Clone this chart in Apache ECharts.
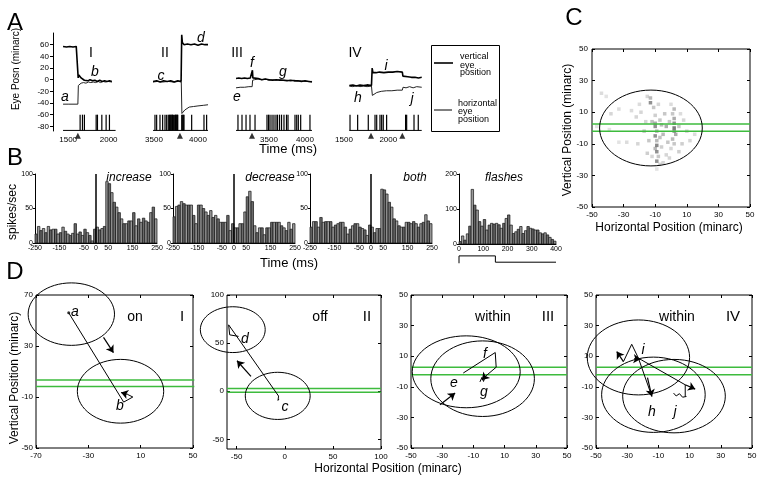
<!DOCTYPE html>
<html><head><meta charset="utf-8">
<script src="https://cdn.jsdelivr.net/npm/echarts@6/dist/echarts.min.js"></script>
<style>html,body{margin:0;padding:0;background:#fff}#c{width:763px;height:482px}</style>
</head><body><div id="c"></div><script>
// ================= DATA =================
// Panel A: eye position traces [time ms, minarc]
const A_yTicks = [60,40,20,0,-20,-40,-60,-80];
const A1_xTicks = [1500,2000], A2_xTicks = [3500,4000], A3_xTicks = [3500,4000], A4_xTicks = [1500,2000];
const A1_vert = [[1437,57],[1480,56],[1520,57],[1560,56],[1600,57],[1618,56],[1624,3],[1632,8],[1645,6],[1660,3],[1680,2],[1700,-1],[1720,1],[1745,-2],[1770,0],[1800,-2],[1830,-1],[1860,-3],[1890,-1],[1920,-3],[1950,-2],[1980,-3],[2010,-2],[2040,-3]];
const A1_horiz = [[1437,-42],[1500,-42],[1560,-42],[1620,-42],[1626,-10],[1635,-7],[1660,-6],[1690,-5],[1720,-6],[1750,-4],[1780,-5],[1810,-4],[1840,-5],[1870,-3],[1900,-5],[1930,-3],[1960,-4],[1990,-3],[2040,-4]];
const A2_vert = [[3489,-3],[3530,-2],[3570,-4],[3610,-2],[3650,-3],[3690,-2],[3730,-4],[3770,-2],[3808,-3],[3815,77],[3822,64],[3840,60],[3880,61],[3920,60],[3960,61],[4000,59],[4040,61],[4080,60],[4114,60]];
const A2_horiz = [[3489,-4],[3540,-3],[3600,-4],[3660,-3],[3720,-4],[3780,-3],[3810,-4],[3817,-58],[3830,-57],[3850,-52],[3870,-49],[3900,-47],[3950,-46],[4000,-45],[4060,-44],[4114,-43]];
const A3_vert = [[3042,2],[3080,3],[3120,2],[3160,3],[3200,2],[3240,3],[3266,2],[3270,16],[3276,3],[3300,1],[3350,2],[3400,0],[3450,1],[3500,0],[3550,-1],[3600,0],[3650,-1],[3700,-1],[3750,-2],[3800,-1],[3850,-2],[3900,-2],[3950,-3],[4000,-2],[4050,-3],[4097,-4]];
const A3_horiz = [[3042,-14],[3100,-13],[3160,-13],[3220,-12],[3266,-12],[3272,-1],[3300,0],[3350,1],[3400,0],[3450,1],[3500,-1],[3550,0],[3600,-1],[3650,0],[3700,-1],[3750,-1],[3800,-2],[3850,-1],[3900,-2],[3950,-2],[4000,-3],[4050,-3],[4097,-3]];
const A4_vert = [[1560,-10],[1600,-9],[1640,-11],[1680,-9],[1720,-10],[1760,-9],[1810,-10],[1818,20],[1826,12],[1860,12],[1900,13],[1950,12],[2000,13],[2050,13],[2100,14],[2158,13],[2165,6],[2180,4],[2220,5],[2260,4],[2300,4],[2340,3],[2377,4]];
const A4_horiz = [[1560,-11],[1600,-12],[1640,-10],[1680,-12],[1720,-11],[1760,-12],[1810,-11],[1820,-27],[1840,-25],[1870,-22],[1920,-20],[1980,-19],[2040,-19],[2100,-18],[2158,-18],[2166,-13],[2200,-14],[2240,-12],[2280,-14],[2320,-12],[2377,-13]];
// spike rasters (ms), raster extents, stimulus triggers
const A1_spikes = [1648,1677,1701,1846,1862,1916,1969,2010];
const A2_spikes = [3511,3530,3568,3598,3625,3644,3662,3674,3680,3690,3695,3705,3710,3720,3735,3745,3750,3758,3765,3770,3815,3826,3833,3841,3928,4068,4098];
const A3_spikes = [3069,3125,3181,3236,3306,3472,3493,3514,3542,3569,3597,3618,3646,3674,3708,3743,3764,3861,3885,3907,3940,4069];
const A4_spikes = [1568,1654,1774,1850,1869,1906,1925,1943,1981,2195,2207,2290,2338];
const A1_span = [1437,2086], A2_span = [3489,4114], A3_span = [3042,4097], A4_span = [1560,2377];
const A1_trig = [1620], A2_trig = [3795], A3_trig = [3264], A4_trig = [1805,2158];

// Panel B: PSTH (10 ms bins)
const B_xTicks = [-250,-150,-50,0,50,150,250];
const B_yTicks = [0,50,100];
const B_binStart = -250, B_binWidth = 10;
const incRate = [13,24,18,21,15,24,19,20,20,13,15,23,17,13,11,14,28,13,16,11,20,15,11,3,20, 23,19,21,24,89,86,73,59,52,44,35,28,28,32,32,44,25,35,30,36,32,30,44,52,35];
const decRate = [38,53,55,60,57,55,55,55,40,28,55,55,50,45,40,47,37,40,35,30,30,30,40,18,28, 22,22,28,28,45,67,75,60,25,15,22,22,12,22,22,30,30,30,30,25,22,18,30,20,28];
const bothRate = [23,31,31,23,37,30,31,31,31,23,26,28,30,30,23,13,20,25,28,28,23,21,19,11,26, 23,15,21,21,78,77,71,59,52,35,32,25,23,23,30,30,28,31,28,23,28,30,41,32,28];
const flash_xTicks = [0,100,200,300,400];
const flash_yTicks = [0,100,200];
const flashRate = [7,23,11,29,51,156,111,97,64,51,70,40,54,59,57,59,55,45,59,73,83,54,30,35,42,50,30,38,50,45,43,40,40,32,29,32,26,19,13,8];
const flashStim = [[0,-55],[0,-34],[150,-34],[150,-52],[400,-52]];

// Panel C: fixation density
const C_ticks = [-50,-30,-10,10,30,50];
const cloudX = [-13,-13,-15,-11,-10,-10,-10,-9,-10,-9,-9,-10,-9,-8,-9,-7, 2,1,2,2,2,2,3,1,2,0, -3,-5,-6,-4,-2,-6,-3, -19,-22,-25,-17,-14,-15,-12,-21,-28,-33,-38,-33,-44,-41,-39,-47, 7,12,10,8,5,-1,-5,-9,5,6,-16,-12,-7,-7,-1,-20,-8,0,15];
const cloudY = [16,19,20,13,8,3,1,-2,-5,-8,-11,-13,-15,-18,-21,-23, 12,9,6,3,0,-2,-4,-7,-10,-13, 1,-4,2,9,-9,-12,-17, 10,7,11,-2,-8,-16,-18,-10,-9,-9,9,12,22,20,-1,1, -10,-8,-2,5,-15,-19,-22,-26,1,9,4,4,5,-6,4,15,15,15,-4];
const cloudI = [0.8,0.5,0.3,0.4,0.35,0.6,0.8,0.5,0.8,0.5,0.85,0.5,0.8,0.4,0.8,0.3, 0.5,0.4,0.6,0.8,0.95,0.7,0.6,0.5,0.4,0.3, 0.6,0.5,0.5,0.4,0.4,0.35,0.3, 0.3,0.3,0.25,0.4,0.4,0.35,0.3,0.3,0.25,0.2,0.3,0.25,0.25,0.2,0.2,0.2, 0.35,0.3,0.3,0.3,0.35,0.3,0.3,0.2,0.4,0.25,0.3,0.45,0.4,0.45,0.4,0.25,0.3,0.25,0.25];
const C_ellipse = [[-12.7,0,32.5,24]];
const C_green = [2.5,-2];

// Panel D: trajectories and receptive fields
const D1_xTicks = [-70,-30,10,50], D1_yTicks = [-50,-10,30,70];
const D2_ticks = [-50,0,50,100];
const D34_ticks = [-50,-30,-10,10,30,50];
const D1_ellipses = [[-43,55,33,24.5],[-5.4,-5.5,33,25]];
const D1_path = [[-45,56],[-3,-14],[4,-10],[0,-8]];
const D1_arrows = [[-18.4,36.8,-10.8,24.8],[0,-8,-5,-6.5]];
const D1_start = [[-45,56]];
const D1_green = [3.4,-1.8];
const D2_ellipses = [[-54,64,33.7,23.8],[-7.3,-4.8,33.7,24.5]];
const D2_path = [[-48,57],[-57.2,58.6],[-58.3,69],[-6.4,-5],[-7,-9.5],[-6,-8]];
const D2_arrows = [[-35.1,15.5,-49.6,31.7]];
const D2_green = [2.8,-1];
const D3_ellipses = [[-14.6,-0.2,34.6,23.5],[-4.1,-4.7,33.2,24.7]];
const D3_path = [[-16.5,-1],[-15.3,-2.2],[4,12.4],[4.6,2.8],[-2.5,-3.3],[-3.5,-6.5],[-4.5,-3.8],[-5.8,-6.8]];
const D3_arrows = [[-31.4,-21.7,-21.7,-14.1],[-2.5,-3.3,-4.5,-5.5]];
const D3_green = [2.8,-2.2];
const D4_ellipses = [[-22.8,9.2,32.8,24.5],[-13.2,-15.2,33.2,24.6],[0,-16.1,32.9,24]];
const D4_tent = [[-32.4,6.5],[-27.1,17.8],[-22.8,8.7],[-14.2,-16.3]];
const D4_pathJ = [[-22.8,8.7],[7.2,-8.7],[7.2,-16.3]];
const D4_squiggle = [[-0.3,-14.1],[1.4,-16],[3.5,-14.5],[5.5,-16.8],[8,-16.3]];
const D4_arrows = [[-32.4,6.5,-36.7,13],[-17,-4,-14.2,-16.3],[7.2,-8.7,13.6,-11.5],[-25.5,8.4,-21.5,8]];
const D4_green = [2.8,-2.2];

// ================= BUILD =================
const SANS = '"Liberation Sans", Arial, sans-serif';
const NARROW = '"Liberation Sans Narrow", "Liberation Sans", Arial, sans-serif';
const grids = [], xAxes = [], yAxes = [], series = [], graphic = [];

function mkAxis(gi, min, max, o) {
  return {
    type: 'value', gridIndex: gi, min, max, position: o.pos,
    axisLine: { show: !!o.line, onZero: false, lineStyle: { color: '#000', width: 1 } },
    axisTick: { show: !!o.ticks, inside: !!o.inside, length: o.tlen || 3, customValues: o.ticks || undefined, lineStyle: { color: '#000', width: 1 } },
    axisLabel: { show: !!o.labels, customValues: o.labels || undefined, fontSize: o.fs || 8, fontFamily: NARROW, color: '#000', margin: o.margin || 3, hideOverlap: false, formatter: v => String(v) },
    splitLine: { show: false }
  };
}
function panel(l, t, w, h, xr, yr, cfg) {
  const g = grids.length;
  grids.push({ left: l, top: t, width: w, height: h, show: !!cfg.box, borderColor: '#000', borderWidth: 1, backgroundColor: 'transparent' });
  const xi = xAxes.length; xAxes.push(mkAxis(g, xr[0], xr[1], Object.assign({ pos: 'bottom' }, cfg.x)));
  const yi = yAxes.length; yAxes.push(mkAxis(g, yr[0], yr[1], Object.assign({ pos: 'left' }, cfg.y)));
  if (cfg.box) {
    xAxes.push(mkAxis(g, xr[0], xr[1], { pos: 'top', ticks: cfg.x.ticks, inside: true }));
    yAxes.push(mkAxis(g, yr[0], yr[1], { pos: 'right', ticks: cfg.y.ticks, inside: true }));
  }
  return { xAxisIndex: xi, yAxisIndex: yi };
}
function line(ax, data, color, width, z) {
  series.push(Object.assign({ type: 'line', data, symbol: 'none', clip: false, silent: true, z: z || 2,
    lineStyle: { color: color || '#000', width: width || 1 } }, ax));
}
function hline(ax, xr, y, color, width) { line(ax, [[xr[0], y], [xr[1], y]], color, width, 3); }
function ellipses(ax, list) {
  series.push(Object.assign({ type: 'custom', data: list, clip: false, silent: true, z: 4,
    renderItem: (p, api) => {
      const c = api.coord([api.value(0), api.value(1)]);
      const s = api.size([api.value(2), api.value(3)]);
      return { type: 'ellipse', shape: { cx: c[0], cy: c[1], rx: s[0], ry: s[1] }, style: { fill: 'none', stroke: '#000', lineWidth: 1 } };
    } }, ax));
}
function arrows(ax, list) {
  series.push(Object.assign({ type: 'lines', coordinateSystem: 'cartesian2d', silent: true, z: 5,
    data: list.map(a => ({ coords: [[a[0], a[1]], [a[2], a[3]]] })),
    symbol: ['none', 'arrow'], symbolSize: 7, lineStyle: { color: '#000', width: 1.2, opacity: 1 } }, ax));
}
function hist(ax, start, width, values) {
  series.push(Object.assign({ type: 'custom', silent: true, clip: false, z: 2,
    data: values.map((v, i) => [start + i * width, start + (i + 1) * width, v, i]),
    renderItem: (p, api) => {
      const a = api.coord([api.value(0), api.value(2)]);
      const b = api.coord([api.value(1), 0]);
      return { type: 'rect', shape: { x: a[0], y: a[1], width: b[0] - a[0], height: b[1] - a[1] },
        style: { fill: api.value(3) % 2 ? '#9a9a9a' : '#6a6a6a', stroke: '#111', lineWidth: 0.7 } };
    } }, ax));
}
const RASTER_BASE = -87, RASTER_TOP = -60, TRIG_Y = -96;
function raster(ax, spikes, span, trig) {
  series.push(Object.assign({ type: 'custom', silent: true, clip: false, z: 3, data: spikes.map(t => [t]),
    renderItem: (p, api) => {
      const a = api.coord([api.value(0), RASTER_BASE]), b = api.coord([api.value(0), RASTER_TOP]);
      return { type: 'line', shape: { x1: a[0], y1: a[1], x2: b[0], y2: b[1] }, style: { stroke: '#000', lineWidth: 1.2 } };
    } }, ax));
  line(ax, [[span[0], RASTER_BASE], [span[1], RASTER_BASE]], '#000', 1);
  series.push(Object.assign({ type: 'scatter', silent: true, clip: false, symbol: 'triangle', symbolSize: [6, 6],
    itemStyle: { color: '#000' }, data: trig.map(t => [t, TRIG_Y]) }, ax));
}
function T(text, x, y, size, o) {
  o = o || {};
  graphic.push({ type: 'text', x, y, rotation: o.rot || 0, silent: true, z: 10,
    style: { text, fill: '#000', font: (o.italic ? 'italic ' : '') + size + 'px ' + (o.font || SANS), align: o.align || 'center', verticalAlign: 'middle' } });
}

// ---- Panel A ----
const A_Y = [-88, 80];
const aCfgX = (ticks) => ({ labels: ticks, fs: 8, margin: 5 });
const A1 = panel(53, 33, 63, 98, [1313, 2091], A_Y, { x: aCfgX(A1_xTicks), y: { line: true, ticks: A_yTicks, labels: A_yTicks, fs: 8, margin: 4 } });
const A2 = panel(150, 33, 60, 98, [3454.5, 4136.4], A_Y, { x: aCfgX(A2_xTicks), y: {} });
const A3 = panel(234, 33, 80, 98, [3013.9, 4125], A_Y, { x: aCfgX(A3_xTicks), y: {} });
const A4 = panel(340, 33, 85, 98, [1454.9, 2414], A_Y, { x: aCfgX(A4_xTicks), y: {} });
[[A1, A1_vert, A1_horiz, A1_spikes, A1_span, A1_trig], [A2, A2_vert, A2_horiz, A2_spikes, A2_span, A2_trig],
 [A3, A3_vert, A3_horiz, A3_spikes, A3_span, A3_trig], [A4, A4_vert, A4_horiz, A4_spikes, A4_span, A4_trig]].forEach(r => {
  line(r[0], r[2], '#222', 1);
  line(r[0], r[1], '#000', 1.6);
  raster(r[0], r[3], r[4], r[5]);
});

// ---- Panel B ----
const bY = { line: true, ticks: B_yTicks, labels: B_yTicks, fs: 7, margin: 2, tlen: 2 };
const bX = { line: true, labels: B_xTicks, fs: 7, margin: 2 };
const B1 = panel(35, 174, 122, 69, [-250, 250], [0, 100], { x: bX, y: bY });
const B2 = panel(173, 174, 122, 69, [-250, 250], [0, 100], { x: bX, y: bY });
const B3 = panel(310, 174, 122, 69, [-250, 250], [0, 100], { x: bX, y: bY });
const B4 = panel(459, 174, 97, 70, [0, 400], [0, 200], { x: { line: true, labels: flash_xTicks, fs: 7, margin: 2 }, y: { line: true, ticks: flash_yTicks, labels: flash_yTicks, fs: 7, margin: 2, tlen: 2 } });
hist(B1, B_binStart, B_binWidth, incRate);
hist(B2, B_binStart, B_binWidth, decRate);
hist(B3, B_binStart, B_binWidth, bothRate);
hist(B4, 0, B_binWidth, flashRate);
[B1, B2, B3].forEach(ax => line(ax, [[0, 0], [0, 100]], '#000', 1.5, 5));
line(B4, flashStim, '#000', 1);

// ---- Panel C ----
const C = panel(592, 49, 158, 158, [-50, 50], [-50, 50], { box: true, x: { ticks: C_ticks, inside: true, labels: C_ticks, margin: 4 }, y: { ticks: C_ticks, inside: true, labels: C_ticks, margin: 4 } });
series.push(Object.assign({ type: 'scatter', silent: true, symbol: 'rect', symbolSize: 3.5, z: 2,
  data: cloudX.map((x, i) => [x, cloudY[i], cloudI[i]]),
  itemStyle: { color: p => 'rgba(40,40,40,' + (p.value[2] * 0.8).toFixed(2) + ')' } }, C));
ellipses(C, C_ellipse);
C_green.forEach(y => hline(C, [-50, 50], y, '#3dbb3d', 1.5));

// ---- Panel D ----
const D1 = panel(36, 295, 157, 153, [-70, 50], [-50, 70], { box: true, x: { ticks: D1_xTicks, inside: true, labels: D1_xTicks, margin: 4 }, y: { ticks: D1_yTicks, inside: true, labels: D1_yTicks, margin: 3 } });
const D2 = panel(227, 295, 154, 154, [-60, 100], [-60, 100], { box: true, x: { ticks: D2_ticks, inside: true, labels: D2_ticks, margin: 4 }, y: { ticks: D2_ticks, inside: true, labels: D2_ticks, margin: 3 } });
const D3 = panel(411, 295, 156, 153, [-50, 50], [-50, 50], { box: true, x: { ticks: D34_ticks, inside: true, labels: D34_ticks, margin: 4 }, y: { ticks: D34_ticks, inside: true, labels: D34_ticks, margin: 3 } });
const D4 = panel(596, 295, 156, 153, [-50, 50], [-50, 50], { box: true, x: { ticks: D34_ticks, inside: true, labels: D34_ticks, margin: 4 }, y: { ticks: D34_ticks, inside: true, labels: D34_ticks, margin: 3 } });
D1_green.forEach(y => hline(D1, [-70, 51], y, '#3dbb3d', 1.5));
D2_green.forEach(y => hline(D2, [-60, 100], y, '#3dbb3d', 1.5));
D3_green.forEach(y => hline(D3, [-50, 50], y, '#3dbb3d', 1.5));
D4_green.forEach(y => hline(D4, [-50, 50], y, '#3dbb3d', 1.5));
ellipses(D1, D1_ellipses); ellipses(D2, D2_ellipses); ellipses(D3, D3_ellipses); ellipses(D4, D4_ellipses);
line(D1, D1_path, '#000', 1, 5); arrows(D1, D1_arrows);
series.push(Object.assign({ type: 'scatter', silent: true, symbolSize: 3, itemStyle: { color: '#000' }, data: D1_start, z: 6 }, D1));
line(D2, D2_path, '#000', 1, 5); arrows(D2, D2_arrows);
line(D3, D3_path, '#000', 1, 5); arrows(D3, D3_arrows);
line(D4, D4_tent, '#000', 1, 5); line(D4, D4_pathJ, '#000', 1, 5); line(D4, D4_squiggle, '#000', 1, 5); arrows(D4, D4_arrows);

// ---- Text ----
T('A', 15, 23, 24); T('B', 15, 158, 24); T('C', 574, 18, 24); T('D', 15, 272, 24);
T('Eye Posn (minarc)', 16, 69, 10, { rot: Math.PI / 2 });
T('I', 91, 53, 14); T('II', 165, 53, 14); T('III', 237, 53, 14); T('IV', 355, 53, 14);
[['a', 65, 97], ['b', 95, 72], ['c', 161, 76], ['d', 201, 38], ['e', 237, 97], ['f', 252, 63], ['g', 283, 72], ['h', 358, 98], ['i', 386, 66], ['j', 412, 99]]
  .forEach(r => T(r[0], r[1], r[2], 14, { italic: true }));
T('Time (ms)', 288, 149, 13);
graphic.push({ type: 'rect', shape: { x: 431.5, y: 45.5, width: 68, height: 86 }, style: { fill: 'none', stroke: '#000', lineWidth: 1 }, silent: true });
graphic.push({ type: 'line', shape: { x1: 434, y1: 63, x2: 453, y2: 63 }, style: { stroke: '#000', lineWidth: 1.6 }, silent: true });
graphic.push({ type: 'line', shape: { x1: 434, y1: 110, x2: 452, y2: 110 }, style: { stroke: '#000', lineWidth: 1 }, silent: true });
T('vertical', 460, 57, 9, { align: 'left' }); T('eye', 460, 66, 9, { align: 'left' }); T('position', 460, 73, 9, { align: 'left' });
T('horizontal', 458, 104, 9, { align: 'left' }); T('eye', 458, 112, 9, { align: 'left' }); T('position', 458, 120, 9, { align: 'left' });
T('spikes/sec', 13, 212, 12, { rot: Math.PI / 2 });
T('increase', 129, 178, 12, { italic: true }); T('decrease', 270, 178, 12, { italic: true });
T('both', 415, 178, 12, { italic: true }); T('flashes', 504, 178, 12, { italic: true });
T('Time (ms)', 289, 263, 13);
T('Vertical Position (minarc)', 568, 130, 12, { rot: Math.PI / 2 });
T('Horizontal Position (minarc)', 669, 228, 12);
T('Vertical Position (minarc)', 15, 378, 12, { rot: Math.PI / 2 });
T('Horizontal Position (minarc)', 388, 469, 12);
T('on', 135, 317, 14); T('I', 182, 317, 15);
T('off', 320, 317, 14); T('II', 367, 317, 15);
T('within', 493, 317, 14); T('III', 548, 317, 15);
T('within', 677, 317, 14); T('IV', 733, 317, 15);
[['a', 75, 312], ['b', 120, 406], ['c', 285, 407], ['d', 245, 339], ['e', 454, 383], ['f', 485, 354], ['g', 484, 392], ['h', 652, 412], ['i', 643, 350], ['j', 675, 412]]
  .forEach(r => T(r[0], r[1], r[2], 14, { italic: true }));

const chart = echarts.init(document.getElementById('c'), null, { renderer: 'canvas' });
chart.setOption({ animation: false, grid: grids, xAxis: xAxes, yAxis: yAxes, series, graphic });
</script></body></html>
